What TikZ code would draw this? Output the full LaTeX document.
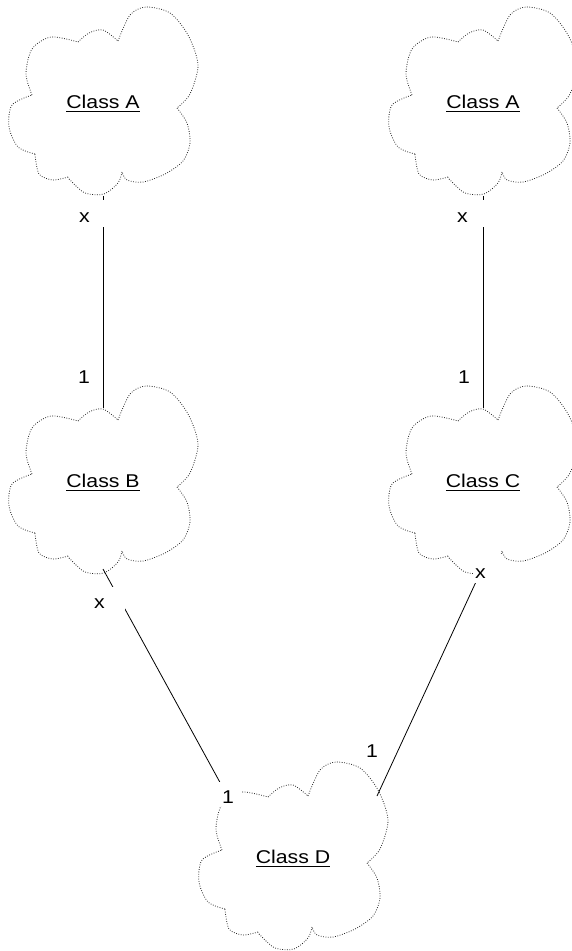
\documentclass[tikz,border=0pt]{standalone}
\usepackage{fontspec}
\setmainfont{Liberation Sans}
\newfontfamily\classfont[FakeStretch=1.15]{Liberation Sans}
\usetikzlibrary{calc}
\newcommand\ulname[1]{\setbox0\hbox{#1}\rlap{\rule[-3.8pt]{\wd0}{0.9pt}}\box0}
\tikzset{
  cloudline/.style={line width=0.8pt, dash pattern=on 0.8pt off 1.6pt, black!85},
  conn/.style={line width=0.8pt, black},
  classname/.style={font=\classfont\fontsize{18.5}{20}\selectfont, inner sep=0pt, anchor=base},
  lbl/.style={font=\classfont\fontsize{18.5}{20}\selectfont, inner sep=0pt, anchor=base},
  masklbl/.style={lbl, fill=white, anchor=base west, align=left},
  cloudpic/.pic={
    \draw[cloudline]
      plot[smooth] coordinates {(16,-60)(28,-86)(44,-94)(68,-88)(86,-66)(96,-36)(88,-7)(75,7)}
      plot[smooth] coordinates {(75,7)(85,22)(88,42)(81,60)(63,73)(41,81)(25,79)(20,71)}
      plot[smooth] coordinates {(20,71)(16,82)(2,93)(-17,92)(-32,79)(-34,76)}
      plot[smooth] coordinates {(-34,76)(-49,79)(-63,73)(-67,53)}
      plot[smooth] coordinates {(-67,53)(-84,46)(-93,26)(-90,4)(-70,-6)}
      plot[smooth] coordinates {(-70,-6)(-76,-27)(-70,-52)(-51,-64)(-24,-59)}
      plot[smooth] coordinates {(-24,-59)(-13,-68)(1,-71)(16,-60)};
  }
}
\begin{document}
\begin{tikzpicture}[x=1pt,y=-1pt]
\useasboundingbox (0,0) rectangle (572,951);
% class names (baseline 7 below cloud centre)
\node[classname] (A1) at (103,108) {\ulname{Class A}};
\node[classname] (A2) at (483,108) {\ulname{Class A}};
\node[classname] (B)  at (103,487) {\ulname{Class B}};
\node[classname] (C)  at (483,487) {\ulname{Class C}};
\node[classname] (D)  at (293,863) {\ulname{Class D}};
% clouds
\foreach \n in {A1,A2,B,C,D}{
  \pic at ([xshift=-1pt,yshift=7pt]\n.base) {cloudpic};
}
% connectors
\draw[conn] ($(A1.base)+(0,88)$) -- ($(B.base)+(0,-79)$);
\draw[conn] ($(A2.base)+(0,88)$) -- ($(C.base)+(0,-79)$);
\draw[conn] ($(B.base)+(0,82)$) -- ($(D.base)+(-65,-66)$);
\draw[conn] ($(C.base)+(-2,84)$) -- ($(D.base)+(84,-67)$);
% multiplicity labels
\node[masklbl, inner xsep=7pt, text width=20pt, text height=22pt, text depth=5pt] (xa1) at (72,222) {x};
\node[masklbl, inner xsep=5pt, text width=26pt, text height=22pt, text depth=5pt] (xa2) at (452,222) {x};
\node[lbl] (ob) at (84,383) {1};
\node[lbl] (oc) at (464,383) {1};
\node[masklbl, inner xsep=4pt, text width=26.5pt, text height=21pt, text depth=4pt] (xb) at (90,608) {x};
\node[masklbl, inner xsep=4pt, text width=16pt, text height=21pt, text depth=3pt] (odb) at (218,803) {1};
\node[masklbl, inner xsep=2pt, text width=25pt, text height=24pt, text depth=5pt] (xc) at (473,578) {x};
\node[lbl] (odc) at (372,757) {1};
\end{tikzpicture}
\end{document}
